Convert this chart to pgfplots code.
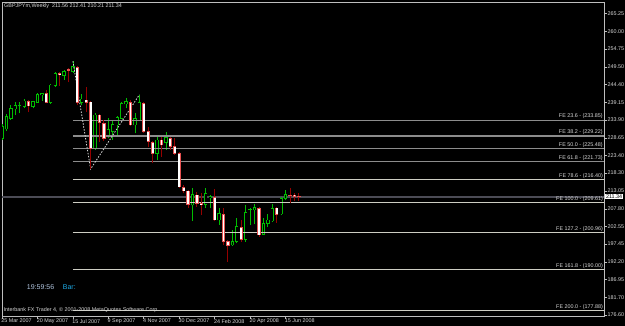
\documentclass[border=0pt]{standalone}
\usepackage{pgfplots}
\usepackage{pgfplotstable}
\pgfplotsset{compat=1.18}
\usepackage{fontspec}
\setmainfont{Liberation Sans}
\definecolor{bullg}{RGB}{0,190,0}
\definecolor{bearo}{RGB}{230,80,80}
\definecolor{bearw}{RGB}{150,0,0}
\definecolor{fed}{RGB}{140,140,140}
\definecolor{fel}{RGB}{205,205,195}
\definecolor{txt}{RGB}{215,215,215}
\definecolor{framec}{RGB}{190,190,190}
\definecolor{bidc}{RGB}{75,75,85}
\definecolor{tsc}{RGB}{176,196,222}
\definecolor{barc}{RGB}{30,170,230}
\newcommand{\tf}{\fontsize{5.4}{6}\selectfont}
% weekly candles: index, open, high, low, close
\pgfplotstableread{
i O H L C
0 228.52 232.73 228.03 231.93
1 231.26 235.66 230.67 234.87
2 234.40 238.31 233.90 237.34
3 237.13 239.28 235.37 238.11
4 238.02 239.28 235.87 238.16
5 237.81 240.07 237.43 239.49
7 237.81 239.57 237.34 239.28
8 239.10 241.84 238.90 241.45
9 241.25 241.93 239.49 241.75
11 238.99 244.48 238.61 244.19
12 243.98 248.01 243.60 247.63
14 246.92 248.60 245.66 248.10
16 248.10 251.20 247.86 249.57
18 239.10 241.45 238.31 240.07
21 225.59 235.87 225.09 235.37
24 228.99 234.58 228.52 231.17
25 230.46 233.90 228.03 232.64
26 232.43 235.17 229.49 234.70
27 234.40 239.19 234.20 238.81
28 238.61 240.28 237.34 239.28
30 232.43 235.87 229.99 234.40
31 233.90 241.33 233.61 239.10
35 224.12 228.99 222.15 228.03
37 227.35 230.29 225.09 228.70
43 208.92 214.01 204.22 212.07
46 209.13 214.01 208.13 212.36
47 211.07 211.86 207.96 211.36
49 204.52 207.96 203.05 206.49
52 197.17 201.58 196.88 198.14
53 198.14 205.01 197.67 202.55
55 198.85 208.92 198.14 206.78
56 207.51 207.96 203.05 207.66
57 207.46 209.13 203.25 208.13
59 200.31 205.01 200.11 203.55
60 203.55 206.19 202.55 204.52
61 204.22 209.13 203.93 207.96
63 206.28 211.28 205.98 210.89
64 210.83 213.19 210.25 212.01
}\bulls
\pgfplotstableread{
i O H L C
6 239.28 239.78 236.17 238.02
10 241.75 242.72 238.81 239.10
13 247.63 248.01 243.98 247.33
15 248.68 249.27 244.98 248.51
17 249.27 249.77 238.31 238.99
19 239.78 243.69 236.34 239.10
20 239.19 239.49 219.50 225.59
22 235.37 235.66 227.52 233.11
23 232.93 233.90 227.73 228.52
29 239.10 239.78 232.14 232.43
32 238.81 239.28 230.08 230.46
33 230.46 231.85 226.06 227.52
34 227.35 227.73 221.18 224.12
36 228.03 228.99 223.12 226.56
38 228.52 228.99 225.09 226.06
39 226.06 228.52 223.62 224.12
40 224.12 224.59 213.83 214.22
41 214.01 214.80 212.36 213.04
42 213.04 213.33 207.96 209.13
44 211.86 212.83 208.43 209.42
45 209.42 212.36 205.98 208.92
48 211.07 213.63 204.22 204.52
50 206.19 207.96 197.17 198.14
51 198.14 198.64 192.26 196.97
54 202.25 204.52 198.14 198.85
58 207.87 208.43 199.61 200.11
62 208.04 208.34 203.72 206.19
65 211.72 213.83 209.42 211.57
66 211.86 212.36 210.10 211.36
67 211.56 212.41 210.21 211.34
}\bears
\pgfplotsset{
  candle/.style n args={2}{draw=none, mark=none, forget plot,
    error bars/.cd, y dir=plus, y explicit, error mark=none,
    error bar style={draw=#1, line width=#2, line cap=butt}},
}
\begin{document}
\begin{tikzpicture}
\fill[black] (0,0) rectangle (625pt,326pt);
\begin{axis}[
  at={(2pt,10pt)}, anchor=south west,
  scale only axis, width=602pt, height=314pt,
  xmin=0, xmax=135.86, ymin=176.31, ymax=268.58,
  axis line style={draw=framec, line width=0.8pt},
  tick align=outside, major tick length=3pt,
  tick style={draw=framec, line width=0.6pt},
  xtick pos=left, ytick pos=right, xticklabel pos=left, yticklabel pos=right,
  xtick={0,8,16,24,32,40,48,56,64},
  xticklabels={25 Mar 2007,20 May 2007,15 Jul 2007,9 Sep 2007,4 Nov 2007,30 Dec 2007,24 Feb 2008,20 Apr 2008,15 Jun 2008},
  ytick={176.60,181.70,186.95,192.20,197.45,202.55,207.80,213.05,218.30,223.40,228.65,233.90,239.15,244.40,249.50,254.75,260.00,265.25},
  yticklabels={176.60,181.70,186.95,192.20,197.45,202.55,207.80,213.05,218.30,223.40,228.65,233.90,239.15,244.40,249.50,254.75,260.00,265.25},
  x tick label style={font=\tf, text=txt, anchor=north west, inner sep=0pt, xshift=-0.8pt},
  y tick label style={font=\tf, text=txt, anchor=west, inner sep=0.5pt},
  clip mode=individual,
]
% bid line
\addplot[bidc, line width=1.6pt] coordinates {(0,211.34) (135.86,211.34)};
% bull candles (hollow): wicks, outline, black interior
\addplot[candle={bullg}{0.75pt}] table[x=i, y=L, y error plus expr=\thisrow{H}-\thisrow{L}, y error minus expr=0] {\bulls};
\addplot[candle={bullg}{3.3pt}] table[x=i, y expr=\thisrow{O}-0.1, y error plus expr=\thisrow{C}-\thisrow{O}+0.2, y error minus expr=0] {\bulls};
\addplot[candle={black}{1.8pt}] table[x=i, y expr=\thisrow{O}+0.12, y error plus expr={max(\thisrow{C}-\thisrow{O}-0.24,0)}, y error minus expr=0] {\bulls};
% Fibonacci expansion levels
\addplot[fed, line width=1.2pt] coordinates {(16,233.85) (135.86,233.85)} node[pos=1, anchor=south east, font=\tf, text=txt, inner sep=0.6pt] {FE 23.6 - (233.85)};
\addplot[fed, line width=1.2pt] coordinates {(16,229.22) (135.86,229.22)} node[pos=1, anchor=south east, font=\tf, text=txt, inner sep=0.6pt] {FE 38.2 - (229.22)};
\addplot[fed, line width=1.2pt] coordinates {(16,225.48) (135.86,225.48)} node[pos=1, anchor=south east, font=\tf, text=txt, inner sep=0.6pt] {FE 50.0 - (225.48)};
\addplot[fed, line width=1.2pt] coordinates {(16,221.73) (135.86,221.73)} node[pos=1, anchor=south east, font=\tf, text=txt, inner sep=0.6pt] {FE 61.8 - (221.73)};
\addplot[fel, line width=0.7pt] coordinates {(16,216.40) (135.86,216.40)} node[pos=1, anchor=south east, font=\tf, text=txt, inner sep=0.6pt] {FE 78.6 - (216.40)};
\addplot[fel, line width=0.7pt] coordinates {(16,209.61) (135.86,209.61)} node[pos=1, anchor=south east, font=\tf, text=txt, inner sep=0.6pt] {FE 100.0 - (209.61)};
\addplot[fel, line width=0.7pt] coordinates {(16,200.96) (135.86,200.96)} node[pos=1, anchor=south east, font=\tf, text=txt, inner sep=0.6pt] {FE 127.2 - (200.96)};
\addplot[fel, line width=0.7pt] coordinates {(16,190.00) (135.86,190.00)} node[pos=1, anchor=south east, font=\tf, text=txt, inner sep=0.6pt] {FE 161.8 - (190.00)};
\addplot[fel, line width=0.7pt] coordinates {(16,177.88) (135.86,177.88)} node[pos=1, anchor=south east, font=\tf, text=txt, inner sep=0.6pt] {FE 200.0 - (177.88)};
% zigzag
\addplot[white!85!black, line width=0.8pt, dash pattern=on 1.5pt off 1.5pt] coordinates {(16,251.20) (20,219.50) (31,241.33)};
% bear candles: dark red wicks, red outline, white body
\addplot[candle={bearw}{1pt}] table[x=i, y=L, y error plus expr=\thisrow{H}-\thisrow{L}, y error minus expr=0] {\bears};
\addplot[candle={bearo}{3.3pt}] table[x=i, y expr=\thisrow{C}-0.1, y error plus expr=\thisrow{O}-\thisrow{C}+0.2, y error minus expr=0] {\bears};
\addplot[candle={white}{1.8pt}] table[x=i, y expr=\thisrow{C}+0.12, y error plus expr={max(\thisrow{O}-\thisrow{C}-0.24,0)}, y error minus expr=0] {\bears};
% texts
\node[anchor=north west, font=\tf, text=txt, inner sep=0pt, xshift=2pt, yshift=-1.5pt] at (rel axis cs:0,1) {GBPJPYm,Weekly\ \ 211.56 212.41 210.21 211.34};
\node[anchor=west, font=\fontsize{7}{8}\selectfont, text=tsc, inner sep=0pt, xshift=24.7pt, yshift=28.7pt] at (rel axis cs:0,0) {19:59:56};
\node[anchor=west, font=\fontsize{7}{8}\selectfont, text=barc, inner sep=0pt, xshift=60.7pt, yshift=28.7pt] at (rel axis cs:0,0) {Bar:};
\node[anchor=west, font=\tf, text=txt, inner sep=0pt, xshift=1.3pt, yshift=6pt] at (rel axis cs:0,0) {Interbank FX Trader 4, © 2001-2008 MetaQuotes Software Corp.};
\coordinate (cp) at (axis cs:135.86,211.34);
\end{axis}
\node[fill=white, text=black, font=\tf, inner sep=0.8pt, anchor=west] at ([xshift=1pt]cp) {211.34};
\pgfresetboundingbox
\path[use as bounding box] (0,0) rectangle (625pt,326pt);
\end{tikzpicture}
\end{document}
